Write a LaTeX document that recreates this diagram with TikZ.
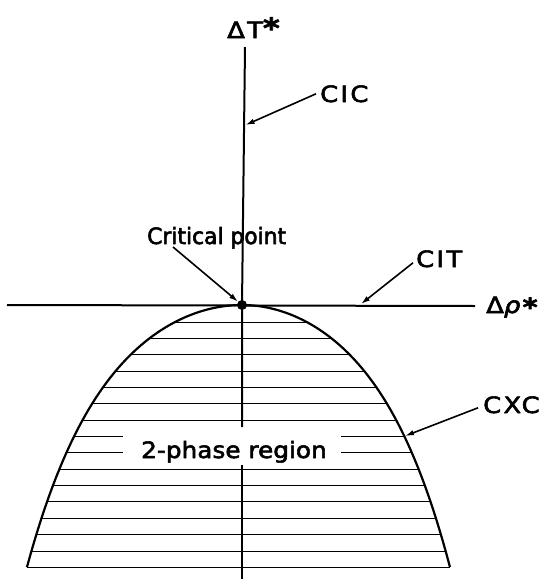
\documentclass[tikz,border=0pt]{standalone}
\usepackage{fontspec}
\setmainfont{DejaVu Sans}[FakeStretch=1.1,FakeBold=2.5]
\newfontfamily\capsfont{DejaVu Sans}[FakeStretch=1.15,LetterSpace=10,FakeBold=2.5]
\newfontfamily\narrowfont{DejaVu Sans}[FakeStretch=0.97,FakeBold=2.5]
\usetikzlibrary{arrows.meta}
\begin{document}
\begin{tikzpicture}[x=1pt,y=-1pt,line join=round,
  axisline/.style={line width=2pt},
  curveline/.style={line width=2.2pt},
  hatchline/.style={line width=1pt},
  pointer/.style={line width=1.6pt,-{Latex[length=9pt,width=5.5pt]}},
  lbl/.style={inner sep=0pt,anchor=base west,font=\fontsize{22.5}{26}\selectfont}]
\useasboundingbox (0,0) rectangle (547,579);
% hatching inside the coexistence curve
\begin{scope}
\clip plot[domain=-2.08:0,samples=60,variable=\u] ({242+103.4*(\u)},{305+40*(\u)*(\u)+2.29*abs(\u)^5})
  -- plot[domain=0:2.08,samples=60,variable=\u] ({242+100*(\u)},{305+40*(\u)*(\u)+2.29*abs(\u)^5}) -- cycle;
\foreach \k in {0,...,6,9,10,...,14}
  \draw[hatchline] (0,{322+16.36*\k}) -- (547,{322+16.36*\k});
\draw[hatchline] (0,436.5) -- (123,436.5) (341,436.5) -- (547,436.5);
\draw[hatchline] (0,452.9) -- (123,452.9) (341,452.9) -- (547,452.9);
\end{scope}
\draw[line width=1.1pt] (27,567.2) -- (450,567.2);
% coexistence curve
\draw[curveline] plot[domain=-2.08:0,samples=60,variable=\u] ({242+103.4*(\u)},{305+40*(\u)*(\u)+2.29*abs(\u)^5})
  -- plot[domain=0:2.08,samples=60,variable=\u] ({242+100*(\u)},{305+40*(\u)*(\u)+2.29*abs(\u)^5});
% axes
\coordinate (cp) at (242,305);
\coordinate (vtop) at (245,47);
\coordinate (vbreakA) at (242,427);
\coordinate (vbreakB) at (242,465);
\coordinate (vbot) at (242,579);
\coordinate (hleft) at (7,305);
\coordinate (hright) at (475,306);
\draw[axisline] (hleft) -- (hright);
\draw[axisline] (vtop) -- (cp) -- (vbreakA);
\draw[axisline] (vbreakB) -- (vbot);
\node[circle,fill,inner sep=0pt,minimum size=10pt] (cpdot) at (cp) {};
% labels
\node[lbl] (dT) at (227,38) {\capsfont ΔT{\fontsize{28}{28}\selectfont\bfseries *}};
\node[lbl] (drho) at (486,313) {\capsfont Δ\textit{ρ}\raisebox{-3pt}{\fontsize{25}{25}\selectfont\bfseries *}};
\node[lbl] (cic) at (320,102) {\capsfont CIC};
\node[lbl] (cit) at (416,267) {\capsfont CIT};
\node[lbl] (cxc) at (483,413) {\capsfont CXC};
\node[lbl] (crit) at (147,244) {\narrowfont Critical point};
\node[lbl] (twophase) at (141,458) {2-phase region};
% pointers
\coordinate (cicTip) at (245.5,125);
\coordinate (citTip) at (361,304);
\coordinate (cxcTip) at (405,436);
\draw[pointer] ([xshift=-4pt]cic.west) -- (cicTip);
\draw[pointer] ([xshift=-3pt,yshift=-4pt]cit.west) -- (citTip);
\draw[pointer] ([xshift=-5pt,yshift=-3pt]cxc.west) -- (cxcTip);
\draw[pointer] ([xshift=26pt,yshift=-3pt]crit.base west) -- (cpdot);
\end{tikzpicture}
\end{document}
